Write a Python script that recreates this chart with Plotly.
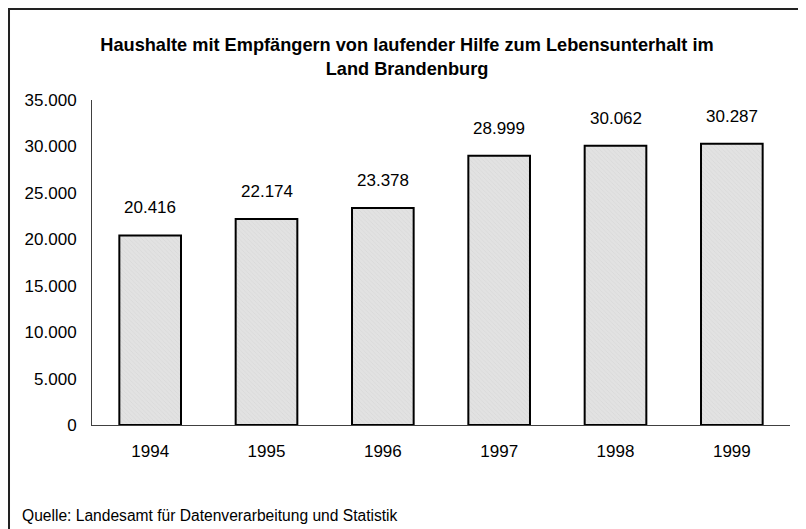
import plotly.graph_objects as go

years = ["1994", "1995", "1996", "1997", "1998", "1999"]
households = [20416, 22174, 23378, 28999, 30062, 30287]
labels = ["20.416", "22.174", "23.378", "28.999", "30.062", "30.287"]

title = "<b>Haushalte mit Empfängern von laufender Hilfe zum Lebensunterhalt im<br>Land Brandenburg</b>"
source = "Quelle: Landesamt für Datenverarbeitung und Statistik"

fig = go.Figure(go.Bar(
    x=years, y=households,
    marker=dict(color="#dedede", line=dict(color="black", width=2),
                pattern=dict(shape="\\", fgcolor="#c8c8c8", bgcolor="#e2e2e2", size=3, solidity=0.2)),
))

# value labels above the bars (category index positions)
for i, (val, lab) in enumerate(zip(households, labels)):
    fig.add_annotation(x=i, y=val, text=lab, showarrow=False, yanchor="bottom",
                       yshift=16, font=dict(size=17, color="black"))

fig.add_annotation(text=source, xref="paper", yref="paper", x=-0.103, y=-0.277,
                   xanchor="left", yanchor="middle", showarrow=False,
                   font=dict(size=15.6, color="black"))

# outer frame of the chart
fig.add_shape(type="rect", xref="paper", yref="paper", x0=-0.1189, x1=1.05,
              y0=-0.5, y1=1.28, line=dict(color="#222", width=2), fillcolor="rgba(0,0,0,0)")

fig.update_layout(
    width=798, height=521,
    margin=dict(l=84, r=16, t=92, b=104),
    paper_bgcolor="white", plot_bgcolor="white",
    separators=",.",
    font=dict(family="Liberation Sans, Arial, sans-serif", size=16, color="black"),
    title=dict(text=title, x=0.5, xanchor="center", y=0.917, yanchor="top",
               font=dict(size=18.2, color="black")),
    showlegend=False,
    bargap=0.47,
)
fig.update_xaxes(type="category", showline=True, linecolor="#404040", linewidth=1, ticks="",
                 ticklabelstandoff=11, tickfont=dict(size=17), automargin=False)
fig.update_yaxes(range=[0, 35000], dtick=5000, tickformat=",d", showgrid=False,
                 zeroline=False, showline=True, linecolor="#404040", linewidth=1,
                 ticks="", ticklabelstandoff=11, tickfont=dict(size=17), automargin=False)

fig.write_html("out.html")
